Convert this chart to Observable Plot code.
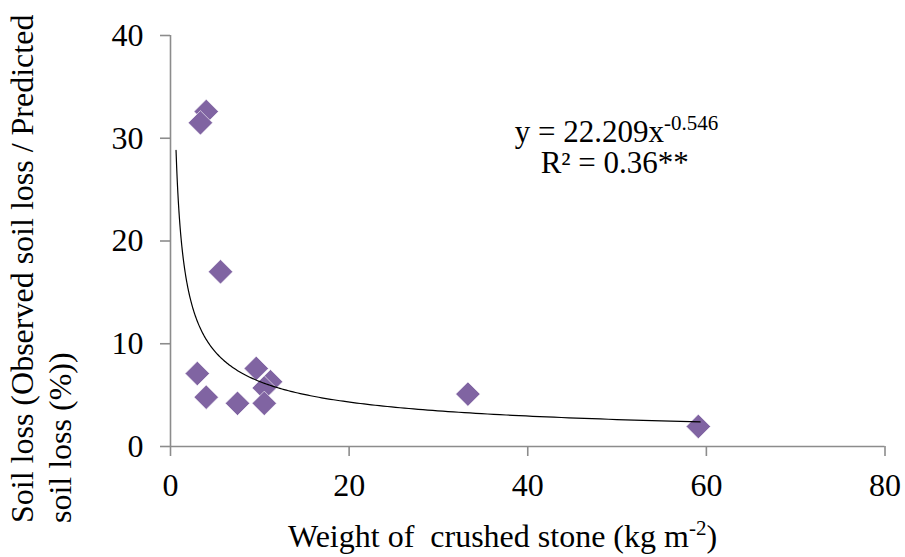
<!DOCTYPE html>
<html>
<head>
<meta charset="utf-8">
<script src="https://cdn.jsdelivr.net/npm/d3@7"></script>
<script src="https://cdn.jsdelivr.net/npm/@observablehq/plot@0.6"></script>
<style>
  body { margin: 0; background: #fff; }
  svg { display: block; }
</style>
</head>
<body>
<div id="chart"></div>
<script>
// Crushed stone weight (kg m-2) and relative soil loss (%)
const weight = [4.0, 3.35, 5.6, 3.0, 4.0, 7.5, 9.6, 11.2, 10.5, 10.5, 33.3, 59.1];
const ratio  = [32.6, 31.5, 17.0, 7.1, 4.8, 4.2, 7.6, 6.3, 5.7, 4.2, 5.1, 1.95];

const xTicks = [0, 20, 40, 60, 80];
const yTicks = [0, 10, 20, 30, 40];

// Power-law fit reported on the chart: y = a * x^b
const fitA = 22.209;
const fitB = -0.546;
const fitRange = [0.62, 59.3];
const eqMain = "y = 22.209x";
const eqExp = "-0.546";
const r2Text = "R² = 0.36**";

const xTitle = "Weight of  crushed stone (kg m";
const xTitleSup = "-2";
const yTitleLines = ["Soil loss (Observed soil loss / Predicted", "soil loss (%))"];

const points = weight.map((w, i) => ({x: w, y: ratio[i]}));
const n = 240;
const fitLine = d3.range(n + 1).map(i => {
  const x = fitRange[0] * Math.pow(fitRange[1] / fitRange[0], i / n);
  return {x, y: fitA * Math.pow(x, fitB)};
});

const axisGray = "#8c8c8c";
const font = "'Liberation Serif', 'Times New Roman', serif";

const plot = Plot.plot({
  width: 905,
  height: 557,
  marginLeft: 170,
  marginRight: 20.5,
  marginTop: 35,
  marginBottom: 111,
  style: {fontFamily: font, fontSize: "32px", color: "#000", background: "#fff"},
  x: {domain: [0, 80]},
  y: {domain: [0, 40]},
  marks: [
    Plot.axisX({ticks: xTicks, tickSize: 10, tickPadding: 17, stroke: axisGray, fill: "#000", strokeWidth: 1.6, fontSize: 32, label: null}),
    Plot.axisY({ticks: yTicks, tickSize: 10, tickPadding: 17, stroke: axisGray, fill: "#000", strokeWidth: 1.6, fontSize: 32, label: null}),
    Plot.ruleY([0], {stroke: axisGray, strokeWidth: 1.6}),
    Plot.ruleX([0], {stroke: axisGray, strokeWidth: 1.6}),
    Plot.dot(points, {x: "x", y: "y", symbol: "diamond2", r: 11, fill: "#8064a2", stroke: "#ffffff", strokeWidth: 0.6}),
    Plot.line(fitLine, {x: "x", y: "y", stroke: "#000", strokeWidth: 1.2, curve: "linear"})
  ]
});

document.getElementById("chart").appendChild(plot);

const svg = d3.select(plot);
const sx = plot.scale("x");
const sy = plot.scale("y");

function addText() {
  return svg.append("text")
    .attr("font-family", font)
    .attr("fill", "#000")
    .style("text-anchor", "start")
    .style("font-family", font)
    .style("white-space", "pre");
}

// Fitted equation and coefficient of determination
const eq = addText()
  .attr("x", sx.apply(38.6))
  .attr("y", sy.apply(29.6))
  .style("font-size", "31px");
eq.append("tspan").text(eqMain);
eq.append("tspan").style("font-size", "21px").attr("dy", -12).text(eqExp);

addText()
  .attr("x", sx.apply(41.5))
  .attr("y", sy.apply(26.6))
  .style("font-size", "31px")
  .text(r2Text);

// X axis title with superscript exponent
const xt = addText()
  .attr("x", 288)
  .attr("y", 547)
  .style("font-size", "32px");
xt.append("tspan").text(xTitle);
xt.append("tspan").style("font-size", "21px").attr("dy", -12).text(xTitleSup);
xt.append("tspan").attr("dy", 12).text(")");

// Y axis title on two rotated lines
const yt = addText()
  .attr("transform", "translate(33,523) rotate(-90)")
  .style("font-size", "32px");
yTitleLines.forEach((line, i) => {
  yt.append("tspan").attr("x", 0).attr("y", i * 38).text(line);
});
</script>
</body>
</html>
